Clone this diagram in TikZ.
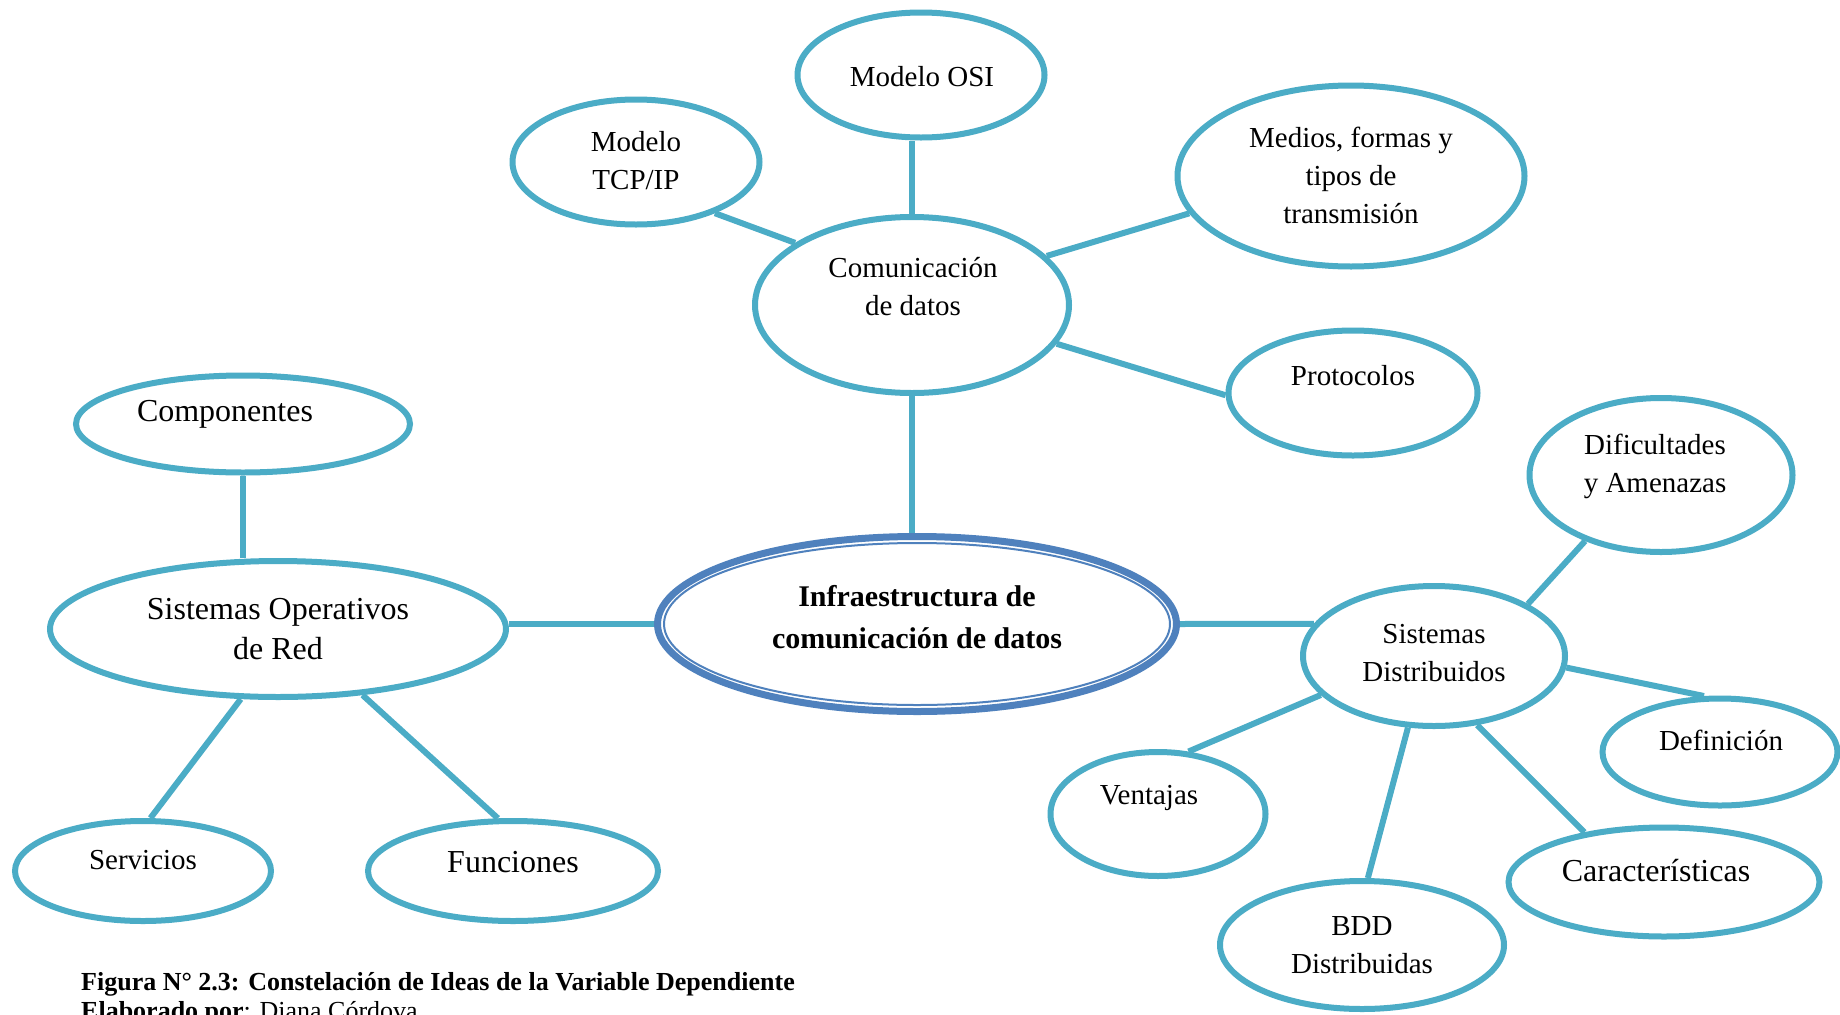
\documentclass[tikz,border=0pt]{standalone}
\usepackage{fontspec}
\setmainfont{Liberation Serif}
\usetikzlibrary{shapes.geometric,backgrounds}
\definecolor{bubbleline}{RGB}{75,172,198}
\definecolor{ringblue}{RGB}{79,129,189}
\tikzset{
  bubble/.style={ellipse, draw=bubbleline, line width=6pt, fill=white, inner sep=0pt},
  link/.style={draw=bubbleline, line width=6pt},
  lbl/.style={align=center, inner sep=0pt, font=\fontsize{29}{38}\selectfont},
  lblbig/.style={align=center, inner sep=0pt, font=\fontsize{32}{40}\selectfont},
  caption/.style={anchor=base west, inner sep=0pt, font=\fontsize{26}{30}\selectfont},
}
\begin{document}
\begin{tikzpicture}[x=1pt,y=-1pt]
\useasboundingbox (0,0) rectangle (1840,1015);

% bubbles
\node[bubble, minimum width=247, minimum height=125] (osi) at (921,75) {};
\node[bubble, minimum width=247, minimum height=125] (tcp) at (636,162) {};
\node[bubble, minimum width=347, minimum height=181] (medios) at (1351,176) {};
\node[bubble, minimum width=314, minimum height=176] (com) at (912,305) {};
\node[bubble, minimum width=249, minimum height=125] (proto) at (1353,393) {};
\node[bubble, minimum width=334, minimum height=97] (comp) at (243,424) {};
\node[bubble, minimum width=263, minimum height=154] (dif) at (1661,475) {};
\node[bubble, minimum width=456, minimum height=136] (sor) at (278,629) {};
\node[bubble, minimum width=262, minimum height=140] (sd) at (1434,656) {};
\node[bubble, minimum width=235, minimum height=107] (def) at (1720,752) {};
\node[bubble, minimum width=215, minimum height=124] (vent) at (1158,814) {};
\node[bubble, minimum width=256, minimum height=100] (serv) at (143,871) {};
\node[bubble, minimum width=290, minimum height=100] (fun) at (513,871) {};
\node[bubble, minimum width=311, minimum height=109] (car) at (1664,882) {};
\node[bubble, minimum width=284, minimum height=128] (bdd) at (1362,945) {};

% central topic with its double ring
\node[ellipse, draw=ringblue, line width=7pt, fill=white, inner sep=0pt,
      minimum width=519, minimum height=175] (infra) at (917,624) {};
\draw[ringblue, line width=2pt] (infra.center) ellipse [x radius=253, y radius=81];

% connectors
\begin{pgfonlayer}{background}
\fill[white] (0,0) rectangle (1840,1015);
\draw[link] (com.north) -- (com.north |- osi.south);
\draw[link] (tcp.-33) -- (com.152);
\draw[link] (medios.193) -- (com.20);
\draw[link] (proto.181) -- (com.-15);
\draw[link] (com.south) -- (com.south |- infra.north);
\draw[link] (comp.south) -- (comp.south |- sor.north);
\draw[link] (infra.west) -- (infra.west -| sor.east);
\draw[link] (infra.east) -- (sd.165);
\draw[link] (sor.242) -- (serv.82);
\draw[link] (sor.-38) -- (fun.106);
\draw[link] (sd.29) -- (dif.221);
\draw[link] (sd.-5) -- (def.106);
\draw[link] (sd.199) -- (vent.64);
\draw[link] (sd.250) -- (bdd.85);
\draw[link] (sd.-58) -- (car.148);
\end{pgfonlayer}

% labels
\node[lbl] (osi-t) at (922,77) {Modelo OSI};
\node[lbl] (tcp-t) at (636,161) {Modelo\\TCP/IP};
\node[lbl] (medios-t) at (1351,175) {Medios, formas y\\tipos de\\transmisión};
\node[lbl] (com-t) at (913,287) {Comunicación\\de datos};
\node[lbl] (proto-t) at (1353,376) {Protocolos};
\node[lblbig] (comp-t) at (225,414) {Componentes};
\node[lbl] (dif-t) at (1655,466) {Dificultades\\y Amenazas};
\node[align=center, inner sep=0pt, font=\fontsize{30}{42}\selectfont\bfseries] (infra-t) at (917,617)
  {Infraestructura de\\comunicación de datos};
\node[lblbig] (sor-t) at (278,629) {Sistemas Operativos\\de Red};
\node[lbl] (sd-t) at (1434,653) {Sistemas\\Distribuidos};
\node[lbl] (def-t) at (1721,740) {Definición};
\node[lbl] (vent-t) at (1149,798) {Ventajas};
\node[lbl] (serv-t) at (143,860) {Servicios};
\node[lblbig] (fun-t) at (513,862) {Funciones};
\node[lblbig] (car-t) at (1656,871) {Características};
\node[lbl] (bdd-t) at (1362,945) {BDD\\Distribuidas};

% caption
\node[caption, font=\fontsize{26}{30}\selectfont\bfseries] (cap1) at (81,990)
  {Figura N° 2.3: Constelación de Ideas de la Variable Dependiente};
\node[caption] (cap2) at (81,1019) {\textbf{Elaborado por}: Diana Córdova};
\end{tikzpicture}
\end{document}
